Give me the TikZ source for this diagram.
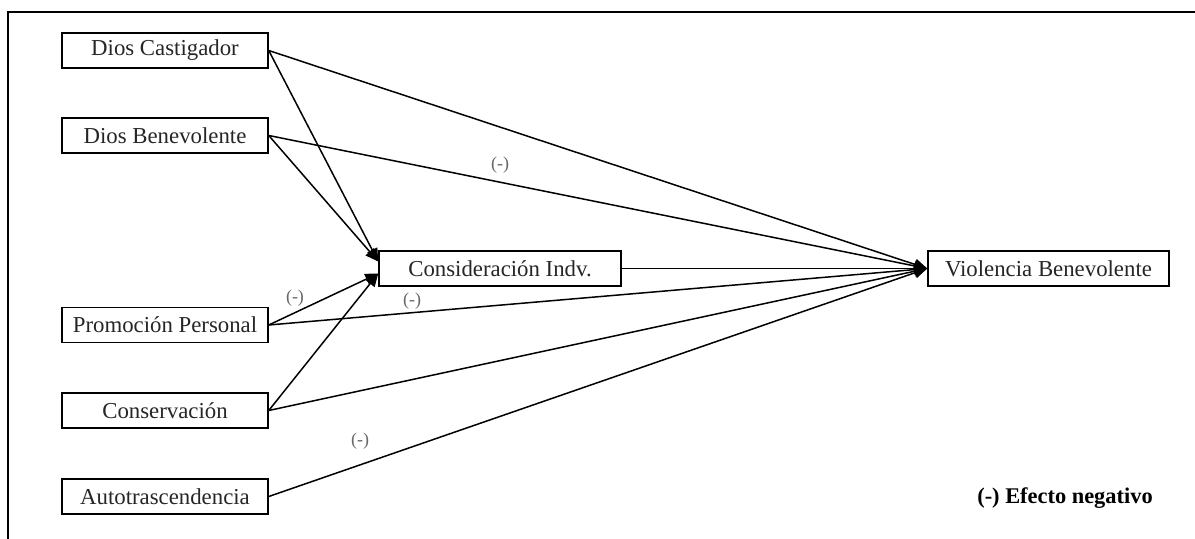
\documentclass[tikz,border=0pt]{standalone}
\usepackage{fontspec}
\setmainfont{Liberation Serif}
\usetikzlibrary{arrows.meta}
\begin{document}
\begin{tikzpicture}[x=0.5pt,y=-0.5pt,
  box/.style={draw=black,line width=0.75pt,fill=white,inner sep=0pt,
    minimum width=103pt,minimum height=17.5pt,
    font=\fontsize{11.4}{13}\selectfont,text=black!85},
  link/.style={line width=0.75pt,draw=black},
  arr/.style={link,-{Triangle[length=6.5pt,width=5.5pt]}},
  lbl/.style={font=\fontsize{9}{10}\selectfont,text=black!60,inner sep=0pt},
  note/.style={font=\bfseries\fontsize{11.2}{13}\selectfont,inner sep=0pt}]
\useasboundingbox (0,0) rectangle (1195,539);
% partial frame
\draw[line width=1pt] (8,539) -- (8,12.5) -- (1195,12.5);

% source variables
\node[box] (dc) at (165,50.5) {Dios Castigador};
\node[box] (db) at (165,135.5) {Dios Benevolente};
\node[box] (pp) at (165,325) {Promoción Personal};
\node[box] (co) at (165,410.5) {Conservación};
\node[box] (at) at (165,496.5) {Autotrascendencia};
% mediator and outcome
\node[box,minimum width=121pt] (ci) at (500,268.5) {Consideración Indv.};
\node[box,minimum width=120.5pt] (vb) at (1048.5,268.5) {Violencia Benevolente};

% paths to the mediator
\draw[arr] (dc.east) -- ([yshift=3.5pt]ci.west);
\draw[arr] (db.east) -- ([yshift=3.5pt]ci.west);
\draw[arr] (pp.east) -- ([yshift=-2.5pt]ci.west);
\draw[arr] (co.east) -- ([yshift=-2.5pt]ci.west);

% paths to the outcome
\draw[arr] (dc.east) -- (vb.west);
\draw[arr] (db.east) -- (vb.west);
\draw[arr] (pp.east) -- (vb.west);
\draw[arr] (co.east) -- (vb.west);
\draw[arr] (at.east) -- (vb.west);
\draw[arr] (ci.east) -- (vb.west);

% negative-effect marks
\node[lbl] (n1) at (500,165) {(-)};
\node[lbl] (n2) at (295,298) {(-)};
\node[lbl] (n3) at (412,301) {(-)};
\node[lbl] (n4) at (360,441) {(-)};

\node[note] (legend) at (1065,498) {(-) Efecto negativo};
\end{tikzpicture}
\end{document}
